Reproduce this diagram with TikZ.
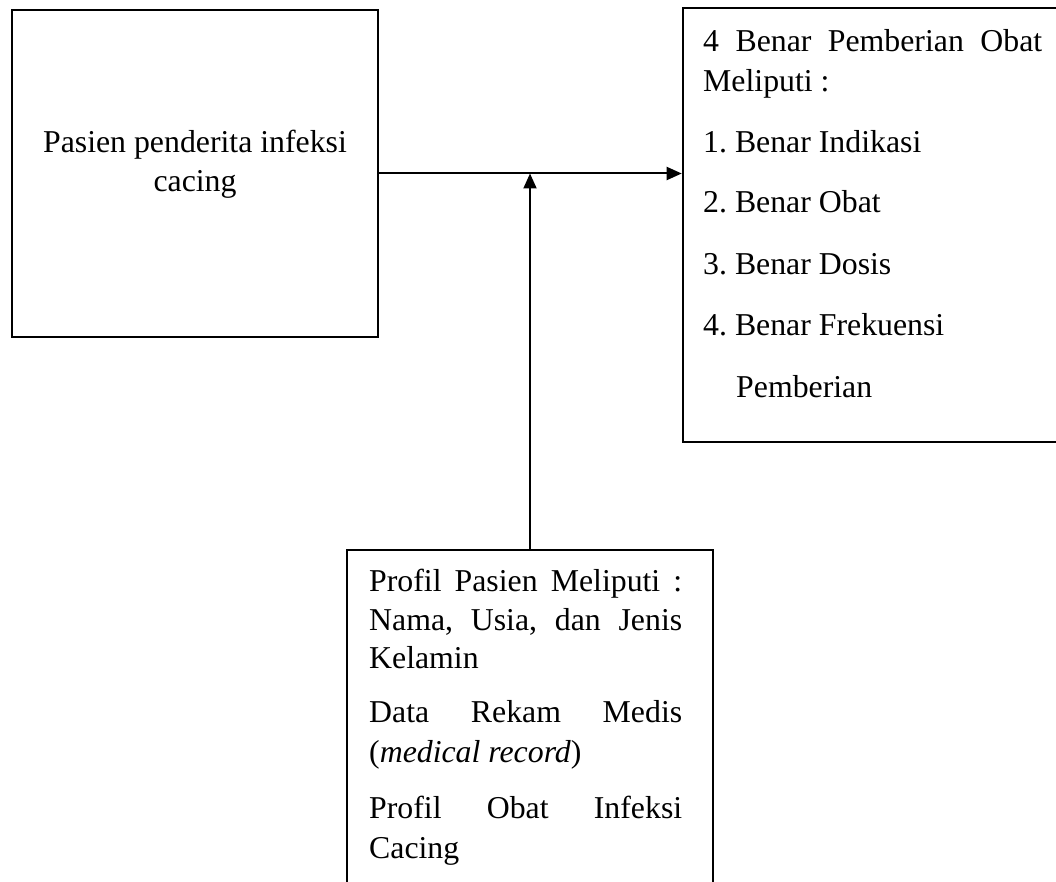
\documentclass[tikz,border=0pt]{standalone}
\usepackage{fontspec}
\setmainfont{Liberation Serif}
\usetikzlibrary{arrows.meta}
\frenchspacing
\tikzset{
  box/.style={draw, line width=2.6pt, inner sep=0pt, fill=none},
  txt/.style={inner sep=0pt, anchor=base west, font=\fontsize{31.8}{38}\selectfont\frenchspacing},
  ctxt/.style={inner sep=0pt, anchor=base, font=\fontsize{31.8}{38}\selectfont\frenchspacing},
  conn/.style={line width=2pt, -{Triangle[length=15pt,width=13pt]}}
}
\begin{document}
\begin{tikzpicture}[x=1pt,y=-1pt]
\clip (0,0) rectangle (1056,882);
\fill[white] (0,0) rectangle (1056,882);
% boxes
\node[box, minimum width=366pt, minimum height=327pt] (L) at (195,173.5) {};
\node[box, minimum width=397pt, minimum height=434pt] (R) at (881.5,225) {};
\node[box, minimum width=366pt, minimum height=370pt] (B) at (530,735) {};
% left text
\node[ctxt] (l1) at (195,153) {Pasien penderita infeksi};
\node[ctxt] (l2) at (195,192) {cacing};
% right text
\node[txt] (r1) at (703,52) {\hbox to 339pt{4\hfill Benar\hfill Pemberian\hfill Obat}};
\node[txt] (r2) at (703,92) {Meliputi :};
\node[txt] (r3) at (703,153) {1. Benar Indikasi};
\node[txt] (r4) at (703,213) {2. Benar Obat};
\node[txt] (r5) at (703,275) {3. Benar Dosis};
\node[txt] (r6) at (703,335) {4. Benar Frekuensi};
\node[txt] (r7) at (736,397) {Pemberian};
% bottom text
\node[txt] (b1) at (369,591) {\hbox to 313pt{Profil\hfill Pasien\hfill Meliputi\hfill :}};
\node[txt] (b2) at (369,630) {\hbox to 313pt{Nama,\hfill Usia,\hfill dan\hfill Jenis}};
\node[txt] (b3) at (369,668) {Kelamin};
\node[txt] (b4) at (369,722) {\hbox to 313pt{Data\hfill Rekam\hfill Medis}};
\node[txt] (b5) at (369,762) {(\textit{medical record})};
\node[txt] (b6) at (369,818) {\hbox to 313pt{Profil\hfill Obat\hfill Infeksi}};
\node[txt] (b7) at (369,858) {Cacing};
% connectors
\draw[conn] (L.east) -- (L.east -| R.west);
\draw[conn] (B.north) -- (B.north |- L.east);
\end{tikzpicture}
\end{document}
